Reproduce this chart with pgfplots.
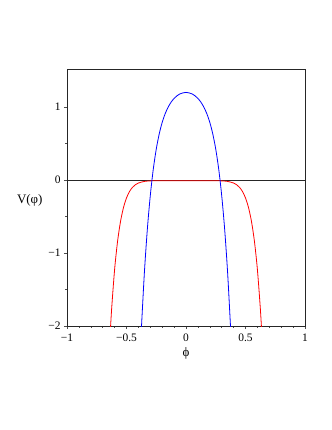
\documentclass[border=0pt]{standalone}
\usepackage{fontspec}
\setmainfont{Liberation Serif}
\usepackage{pgfplots}
\pgfplotsset{compat=1.18}

\begin{document}
\begin{tikzpicture}
\begin{axis}[
  scale only axis,
  width=238bp, height=257bp,
  xmin=-1, xmax=1, ymin=-2, ymax=1.52,
  xtick={-1,-0.5,0,0.5,1},
  xticklabels={−1,−0.5,0,0.5,1},
  ytick={-2,-1,0,1},
  yticklabels={−2,−1,0,1},
  minor x tick num=4, minor y tick num=1,
  tick align=outside,
  major tick length=3bp, minor tick length=1.6bp,
  xtick pos=bottom, ytick pos=left,
  axis line style={line width=0.8bp, black!85},
  every tick/.style={black!70, line width=0.5bp},
  tick label style={font=\fontsize{11.5}{13}\selectfont},
  xticklabel style={yshift=-1bp},
  /pgf/number format/assume math mode=true,
  xlabel={ϕ}, ylabel={V(φ)},
  every axis x label/.style={at={(rel axis cs:0.5,0)}, anchor=center, yshift=-27bp, font=\fontsize{13}{15}\selectfont},
  every axis y label/.style={at={(rel axis cs:0,0.5)}, anchor=east, xshift=-21bp, yshift=-3bp, font=\fontsize{13}{15}\selectfont},
  clip=true,
]
\coordinate (sw) at (rel axis cs:0,0);
% zero line
\addplot[black!85, line width=0.8bp] coordinates {(-1,0) (1,0)};
% red curve
\addplot[red, line width=0.8bp, smooth] coordinates {
(-0.64,-2.187) (-0.625,-1.768) (-0.6,-1.227) (-0.575,-0.840) (-0.55,-0.566)
(-0.525,-0.376) (-0.5,-0.2459) (-0.475,-0.1587) (-0.45,-0.1015) (-0.425,-0.0646)
(-0.4,-0.0417) (-0.35,-0.0195) (-0.3,-0.0124) (-0.25,-0.0105) (-0.2,-0.0101)
(-0.1,-0.01) (0,-0.01) (0.1,-0.01) (0.2,-0.0101) (0.25,-0.0105) (0.3,-0.0124)
(0.35,-0.0195) (0.4,-0.0417) (0.425,-0.0646) (0.45,-0.1015) (0.475,-0.1587)
(0.5,-0.2459) (0.525,-0.376) (0.55,-0.566) (0.575,-0.840) (0.6,-1.227)
(0.625,-1.768) (0.64,-2.187)
};
% blue curve
\addplot[blue, line width=0.8bp, smooth] coordinates {
(-0.375,-2.039) (-0.35,-1.277) (-0.325,-0.678) (-0.3,-0.213) (-0.275,0.147)
(-0.25,0.422) (-0.225,0.631) (-0.2,0.789) (-0.175,0.908) (-0.15,0.998)
(-0.125,1.066) (-0.1,1.117) (-0.075,1.154) (-0.05,1.180) (0,1.2)
(0.05,1.180) (0.075,1.154) (0.1,1.117) (0.125,1.066) (0.15,0.998)
(0.175,0.908) (0.2,0.789) (0.225,0.631) (0.25,0.422) (0.275,0.147)
(0.3,-0.213) (0.325,-0.678) (0.35,-1.277) (0.375,-2.039)
};
\end{axis}
\path[use as bounding box] (sw) ++(-67bp,-104bp) rectangle ++(332bp,430bp);
\end{tikzpicture}
\end{document}
